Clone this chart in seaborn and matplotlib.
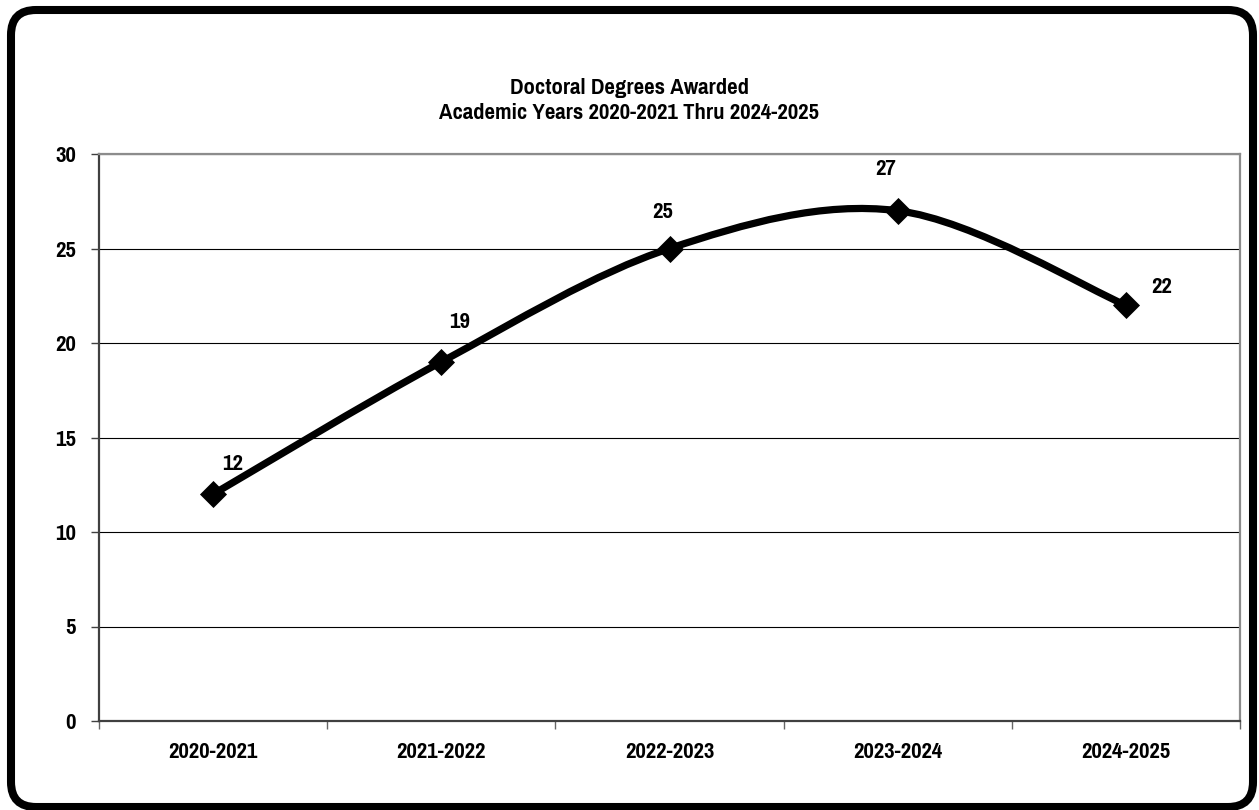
import numpy as np
import pandas as pd
import seaborn as sns
import matplotlib
matplotlib.use("Agg")
from matplotlib import pyplot as plt, font_manager
from matplotlib.path import Path
from matplotlib.patches import PathPatch, FancyBboxPatch

years = ["2020-2021", "2021-2022", "2022-2023", "2023-2024", "2024-2025"]
degrees = [12, 19, 25, 27, 22]
y_ticks = [0, 5, 10, 15, 20, 25, 30]
title_lines = ["Doctoral Degrees Awarded", "Academic Years 2020-2021 Thru 2024-2025"]

# where each value label sits relative to its point (points)
label_offsets = [(14, 22), (13, 29), (-5, 26), (-9, 30), (26, 13)]

sns.set_theme(style="white")

# pick a bold narrow face close to Arial Narrow
fonts = font_manager.fontManager.ttflist
bold_names = {f.name for f in fonts if isinstance(f.weight, int) and f.weight >= 700}
family, fs = "Liberation Sans", 14
for cand in ["Liberation Sans Narrow", "Pragati Narrow", "PT Sans Narrow", "Roboto Condensed"]:
    if cand in bold_names:
        family, fs = cand, 17.8
        break
plt.rcParams["font.family"] = [family, "DejaVu Sans"]
plt.rcParams["font.weight"] = "bold"
plt.rcParams["text.color"] = "black"
plt.rcParams["xtick.labelcolor"] = "black"
plt.rcParams["ytick.labelcolor"] = "black"

df = pd.DataFrame({"year": years, "degrees": degrees})
df["pos"] = np.arange(len(df))

fig = plt.figure(figsize=(12.59, 8.10), dpi=100)
ax = fig.add_axes([99 / 1259, 1 - 721 / 810, (1240 - 99) / 1259, (721 - 154) / 810])

# smoothed line like a spreadsheet "smoothed line" chart (bezier through the points)
px = df["pos"].to_numpy(dtype=float)
py = df["degrees"].to_numpy(dtype=float)
verts = [(px[0], py[0])]
codes = [Path.MOVETO]
n = len(px)
for i in range(n - 1):
    p0 = np.array([px[max(i - 1, 0)], py[max(i - 1, 0)]])
    p1 = np.array([px[i], py[i]])
    p2 = np.array([px[i + 1], py[i + 1]])
    p3 = np.array([px[min(i + 2, n - 1)], py[min(i + 2, n - 1)]])
    c1 = p1 + (p2 - p0) / 6
    c2 = p2 - (p3 - p1) / 6
    verts += [tuple(c1), tuple(c2), tuple(p2)]
    codes += [Path.CURVE4] * 3
ax.add_patch(PathPatch(Path(verts, codes), fill=False, lw=5.2, color="black",
                       capstyle="round", joinstyle="round", zorder=3))

sns.scatterplot(data=df, x="pos", y="degrees", marker="D", s=190, color="black",
                edgecolor="black", linewidth=0, ax=ax, zorder=4, legend=False)

for (x, y), off in zip(zip(px, py), label_offsets):
    ax.annotate(f"{int(y)}", (x, y), xytext=off, textcoords="offset points",
                ha="center", va="center", fontsize=fs, fontweight="bold")

ax.set_xlim(-0.5, len(years) - 0.5)
ax.set_ylim(0, 30)
ax.set_yticks(y_ticks)
ax.set_xticks(df["pos"])
ax.set_xticklabels(years)
ax.set_xticks(np.arange(len(years) + 1) - 0.5, minor=True)
ax.set_xlabel("")
ax.set_ylabel("")

ax.yaxis.grid(True, color="black", lw=0.8)
ax.xaxis.grid(False)
ax.set_axisbelow(True)

for side in ["top", "right"]:
    ax.spines[side].set_visible(True)
    ax.spines[side].set_color("#8c8c8c")
    ax.spines[side].set_linewidth(1.6)
for side in ["left", "bottom"]:
    ax.spines[side].set_color("#404040")
    ax.spines[side].set_linewidth(1.6)

ax.tick_params(axis="y", which="major", left=True, length=5.5, width=1, color="#404040",
               pad=11, labelsize=fs)
ax.tick_params(axis="x", which="major", bottom=False, length=0, pad=15, labelsize=fs)
ax.tick_params(axis="x", which="minor", bottom=True, length=5.5, width=1, color="#666666")
for lab in ax.get_xticklabels() + ax.get_yticklabels():
    lab.set_fontweight("bold")

fig.text(629 / 1259, 1 - 88 / 810, title_lines[0], ha="center", va="center",
         fontsize=fs, fontweight="bold")
fig.text(629 / 1259, 1 - 113 / 810, title_lines[1], ha="center", va="center",
         fontsize=fs, fontweight="bold")

# rounded outer frame
frame = FancyBboxPatch((0.11, 0.03), 12.42, 7.97, boxstyle="round,pad=0,rounding_size=0.25",
                       transform=fig.dpi_scale_trans, fill=False, ec="black", lw=5.8,
                       clip_on=False)
fig.patches.append(frame)

fig.savefig("out.png", dpi=100)
